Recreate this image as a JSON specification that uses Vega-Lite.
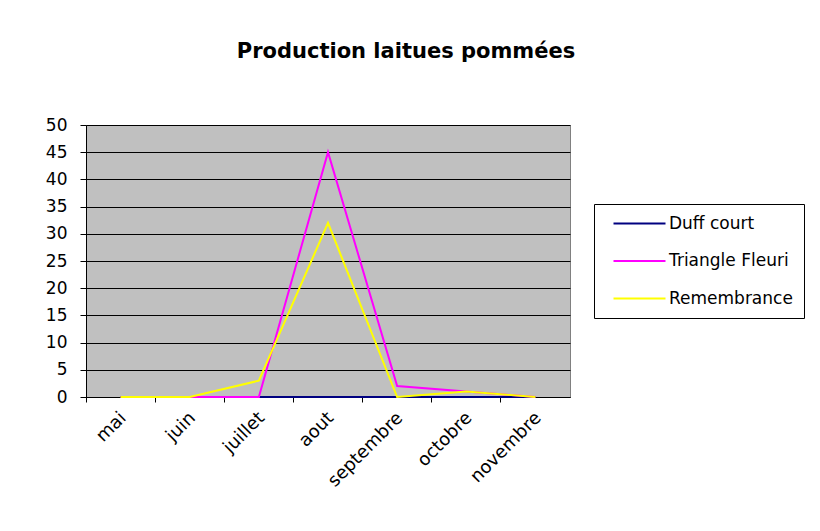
{
  "$schema": "https://vega.github.io/schema/vega-lite/v6.json",
  "width": 484,
  "height": 272,
  "autosize": "none",
  "padding": {"left": 86, "top": 125, "right": 250, "bottom": 134},
  "background": "white",
  "title": {
    "text": "Production laitues pommées",
    "font": "DejaVu Sans",
    "fontSize": 21,
    "fontWeight": "bold",
    "color": "#000000",
    "anchor": "middle",
    "frame": "group",
    "dx": 78,
    "baseline": "alphabetic",
    "offset": 37
  },
  "data": {
    "values": [
      {"mois": "mai", "serie": "Duff court", "valeur": 0},
      {"mois": "juin", "serie": "Duff court", "valeur": 0},
      {"mois": "juillet", "serie": "Duff court", "valeur": 0},
      {"mois": "aout", "serie": "Duff court", "valeur": 0},
      {"mois": "septembre", "serie": "Duff court", "valeur": 0},
      {"mois": "octobre", "serie": "Duff court", "valeur": 0},
      {"mois": "novembre", "serie": "Duff court", "valeur": 0},
      {"mois": "mai", "serie": "Triangle Fleuri", "valeur": 0},
      {"mois": "juin", "serie": "Triangle Fleuri", "valeur": 0},
      {"mois": "juillet", "serie": "Triangle Fleuri", "valeur": 0},
      {"mois": "aout", "serie": "Triangle Fleuri", "valeur": 45},
      {"mois": "septembre", "serie": "Triangle Fleuri", "valeur": 2},
      {"mois": "octobre", "serie": "Triangle Fleuri", "valeur": 1},
      {"mois": "novembre", "serie": "Triangle Fleuri", "valeur": 0},
      {"mois": "mai", "serie": "Remembrance", "valeur": 0},
      {"mois": "juin", "serie": "Remembrance", "valeur": 0},
      {"mois": "juillet", "serie": "Remembrance", "valeur": 3},
      {"mois": "aout", "serie": "Remembrance", "valeur": 32},
      {"mois": "septembre", "serie": "Remembrance", "valeur": 0},
      {"mois": "octobre", "serie": "Remembrance", "valeur": 1},
      {"mois": "novembre", "serie": "Remembrance", "valeur": 0}
    ]
  },
  "mark": {"type": "line", "strokeWidth": 2, "clip": false},
  "encoding": {
    "x": {
      "field": "mois",
      "type": "nominal",
      "sort": ["mai", "juin", "juillet", "aout", "septembre", "octobre", "novembre"],
      "scale": {"type": "band", "paddingInner": 0, "paddingOuter": 0},
      "axis": {
        "title": null,
        "bandPosition": 0,
        "labelOffset": 3,
        "labelAngle": -45,
        "labelAlign": "right",
        "labelBaseline": "middle",
        "labelPadding": 13,
        "labelFont": "DejaVu Sans",
        "labelFontSize": 18,
        "labelColor": "#000000",
        "tickSize": 5,
        "tickColor": "#000000",
        "domainColor": "#000000",
        "grid": false
      }
    },
    "y": {
      "field": "valeur",
      "type": "quantitative",
      "scale": {"domain": [0, 50], "nice": false, "zero": true},
      "axis": {
        "title": null,
        "values": [0, 5, 10, 15, 20, 25, 30, 35, 40, 45, 50],
        "labelFont": "DejaVu Sans",
        "labelFontSize": 17,
        "labelColor": "#000000",
        "labelPadding": 13,
        "tickSize": 6,
        "tickColor": "#000000",
        "domainColor": "#000000",
        "grid": true,
        "gridColor": "#000000",
        "gridOpacity": 1,
        "gridWidth": 1
      }
    },
    "color": {
      "field": "serie",
      "type": "nominal",
      "scale": {
        "domain": ["Duff court", "Triangle Fleuri", "Remembrance"],
        "range": ["#000080", "#FF00FF", "#FFFF00"]
      },
      "legend": {
        "title": null,
        "orient": "none",
        "legendX": 508,
        "legendY": 79,
        "strokeColor": "#000000",
        "fillColor": "#FFFFFF",
        "padding": 11,
        "symbolType": "M0,0H8",
        "symbolSize": 169,
        "symbolStrokeWidth": 2,
        "labelFont": "DejaVu Sans",
        "labelFontSize": 17,
        "labelColor": "#000000",
        "labelOffset": 47,
        "rowPadding": 19.5
      }
    }
  },
  "config": {
    "view": {"fill": "#C0C0C0", "stroke": "#808080", "strokeWidth": 1}
  }
}
